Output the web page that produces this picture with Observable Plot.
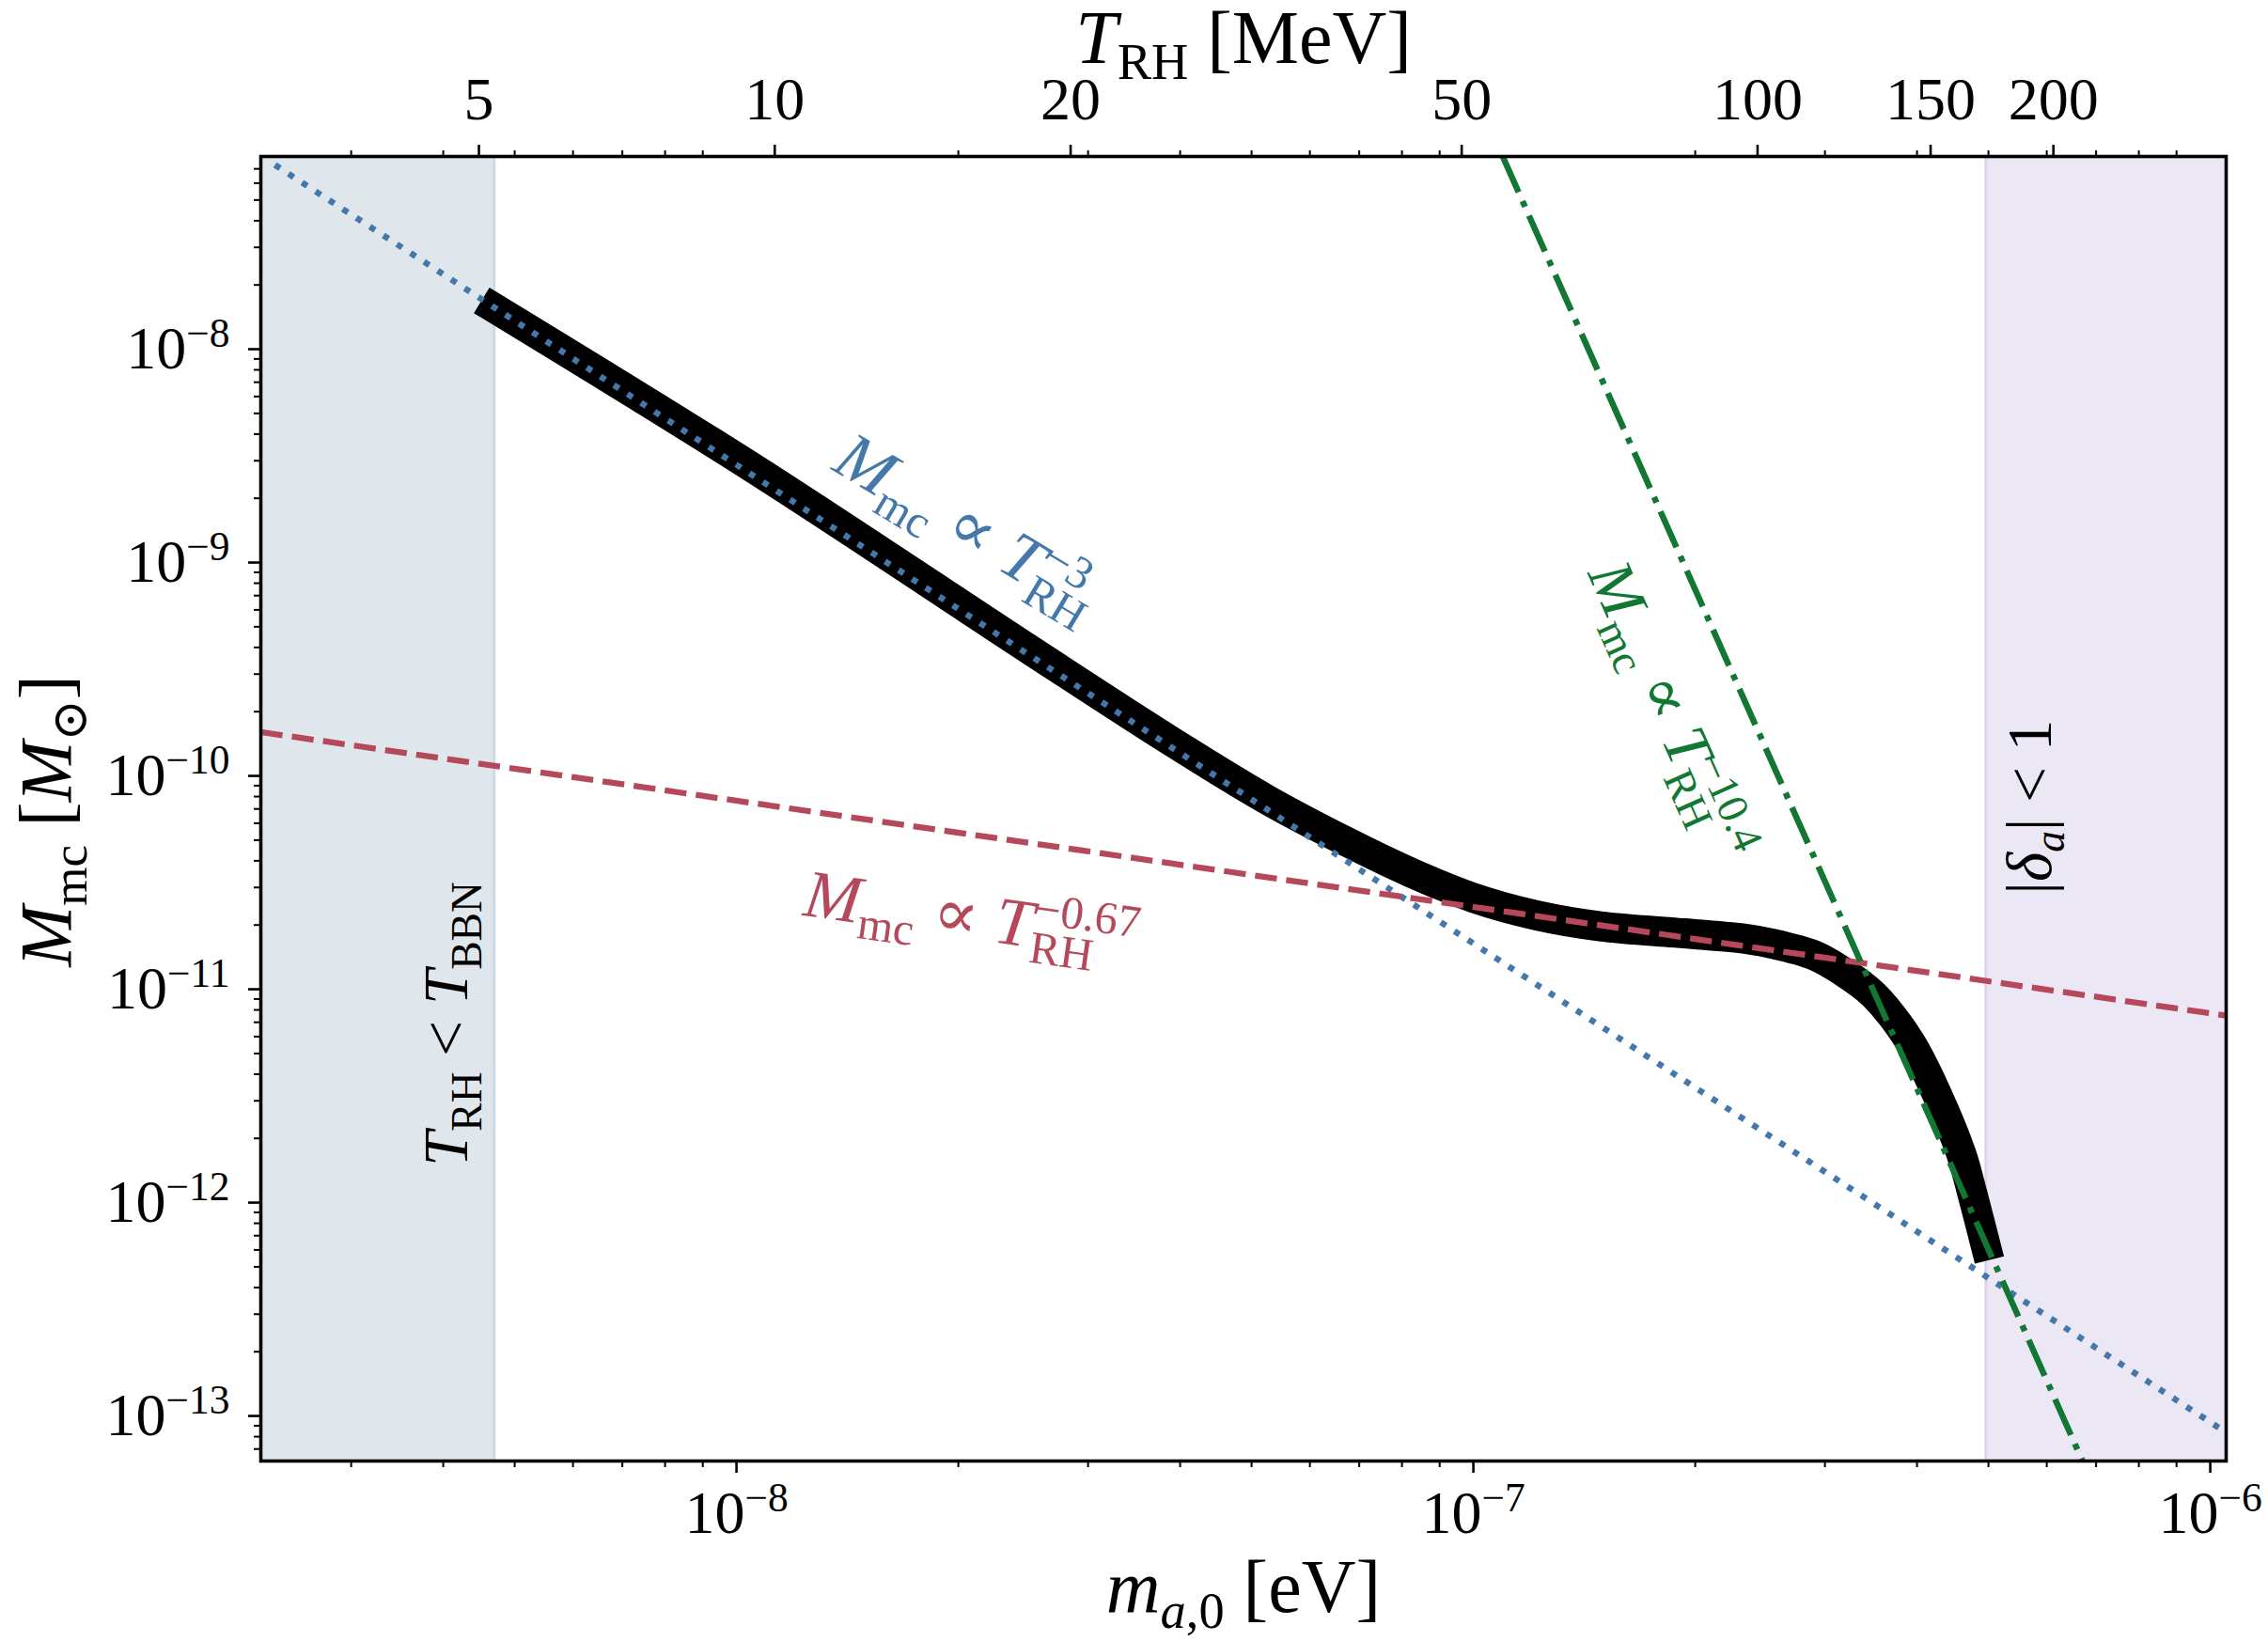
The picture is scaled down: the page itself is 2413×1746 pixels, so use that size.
<!DOCTYPE html>
<html>
<head>
<meta charset="utf-8">
<script src="https://cdn.jsdelivr.net/npm/d3@7"></script>
<script src="https://cdn.jsdelivr.net/npm/@observablehq/plot@0.6"></script>
<style>
  html, body { margin: 0; padding: 0; background: #fff; overflow: hidden; }
</style>
</head>
<body>
<div id="chart"></div>
<script>
// ---------------- data ----------------
// axion mass today m_a,0 [eV] and minicluster mass M_mc [M_sun]
const maDomain = [2.262e-9, 1.051e-6];
const mmcDomain = [6.15e-14, 8.0e-8];

// main result curve
const curveMa  = [4.51e-9, 1.051e-8, 2.537e-8, 3.942e-8, 5.241e-8, 6.767e-8, 8.235e-8, 1.003e-7,
                  1.221e-7, 1.487e-7, 1.931e-7, 2.350e-7, 2.529e-7, 2.904e-7, 3.171e-7, 3.494e-7,
                  3.916e-7, 4.253e-7, 4.592e-7, 4.757e-7, 5.015e-7];
const curveMmc = [1.694e-8, 2.785e-9, 3.777e-10, 1.412e-10, 7.76e-11, 4.866e-11, 3.517e-11, 2.675e-11,
                  2.217e-11, 1.973e-11, 1.829e-11, 1.720e-11, 1.644e-11, 1.44e-11, 1.213e-11, 9.41e-12,
                  5.665e-12, 3.243e-12, 1.695e-12, 1.095e-12, 5.384e-13];

// power-law guide lines (end points)
const guideT3Ma    = [2.364e-9, 1.051e-6];
const guideT3Mmc   = [7.30e-8, 8.37e-14];
const guideT067Ma  = [2.262e-9, 1.051e-6];
const guideT067Mmc = [1.604e-10, 7.53e-12];
const guideT104Ma  = [1.096e-7, 6.709e-7];
const guideT104Mmc = [8.0e-8, 6.15e-14];

// excluded regions
const bbnLimitMa = 4.69e-9;     // T_RH < T_BBN to the left
const deltaLimitMa = 4.96e-7;   // |delta_a| < 1 to the right

// ticks
const xMajorTicks = [1e-8, 1e-7, 1e-6];
const yMajorTicks = [1e-13, 1e-12, 1e-11, 1e-10, 1e-9, 1e-8];
const tRhTicks = [5, 10, 20, 50, 100, 150, 200];      // MeV, top axis
const tRhToMa = {coef: 5.227e-10, exponent: 1.3337};  // m_a,0 = coef * T_RH^exponent

// texts
const xTitle = "$m$_{$a$,0} [eV]";
const yTitle = "$M$_{mc} [$M$_{⊙}]";
const topTitle = "$T$_{RH} [MeV]";
const annotations = [
  {text: "$M$_{mc} ∝ $T$_{RH}^{−3}",    m: 1.988e-8, M: 1.213e-9,  rotate: 31,  color: "#4477AA", size: 72},
  {text: "$M$_{mc} ∝ $T$_{RH}^{−0.67}", m: 2.065e-8, M: 1.729e-11, rotate: 8,   color: "#B5495B", size: 72},
  {text: "$M$_{mc} ∝ $T$_{RH}^{−10.4}", m: 1.747e-7, M: 1.857e-10, rotate: 66,  color: "#117733", size: 68},
  {text: "$T$_{RH} < $T$_{BBN}",        m: 4.316e-9, M: 6.87e-12,  rotate: -90, color: "#000000", size: 67},
  {text: "|$δ$_{$a$}| < 1",             m: 6.07e-7,  M: 7.15e-11,  rotate: -90, color: "#000000", size: 67}
];

// ---------------- derived tables ----------------
const toRows = (xs, ys) => xs.map((m, i) => ({m, M: ys[i]}));
const curveRows = toRows(curveMa, curveMmc);
const t3Rows = toRows(guideT3Ma, guideT3Mmc);
const t067Rows = toRows(guideT067Ma, guideT067Mmc);
const t104Rows = toRows(guideT104Ma, guideT104Mmc);

function minorTicks([lo, hi]) {
  const out = [];
  for (let e = Math.floor(Math.log10(lo)); e <= Math.ceil(Math.log10(hi)); e++)
    for (let k = 2; k <= 9; k++) {
      const v = k * Math.pow(10, e);
      if (v > lo * 1.01 && v < hi * 0.99) out.push(v);
    }
  return out;
}
const xMinor = minorTicks(maDomain);
const yMinor = minorTicks(mmcDomain);
const topTickMa = tRhTicks.map(T => tRhToMa.coef * Math.pow(T, tRhToMa.exponent));
const topLabel = new Map(topTickMa.map((m, i) => [m, String(tRhTicks[i])]));
const powLabel = d => "10^{" + String(Math.round(Math.log10(d))).replace("-", "−") + "}";

const FONT = "'Liberation Serif', 'DejaVu Serif', serif";

const plot = Plot.plot({
  width: 2413,
  height: 1746,
  marginLeft: 277,
  marginRight: 45,
  marginTop: 166,
  marginBottom: 192,
  style: {fontFamily: FONT, fontSize: "64px", background: "#fff", color: "#000", overflow: "visible"},
  x: {type: "log", domain: maDomain, axis: null},
  y: {type: "log", domain: mmcDomain, axis: null},
  marks: [
    // shaded regions
    Plot.rect([0], {x1: () => maDomain[0], x2: () => bbnLimitMa, fill: "#DFE7EC"}),
    Plot.ruleX([bbnLimitMa], {stroke: "#CBDAE4", strokeWidth: 3}),
    Plot.rect([0], {x1: () => deltaLimitMa, x2: () => maDomain[1], fill: "#ECE7F5"}),
    Plot.ruleX([deltaLimitMa], {stroke: "#DDD5EF", strokeWidth: 3}),
    // main curve
    Plot.line(curveRows, {x: "m", y: "M", curve: "catmull-rom", stroke: "#000", strokeWidth: 32,
      strokeLinecap: "butt", strokeLinejoin: "round", clip: true}),
    // guides
    Plot.line(t3Rows, {x: "m", y: "M", stroke: "#4477AA", strokeWidth: 6.5, strokeDasharray: "6.5,10.7", strokeLinecap: "butt", clip: true}),
    Plot.line(t067Rows, {x: "m", y: "M", stroke: "#B5495B", strokeWidth: 6.3, strokeDasharray: "23.3,10.1", strokeLinecap: "butt", clip: true}),
    Plot.line(t104Rows, {x: "m", y: "M", stroke: "#117733", strokeWidth: 6.5, strokeDasharray: "41.6,10.4,6.5,10.4", strokeLinecap: "butt", clip: true}),
    // annotations
    ...annotations.map(a => Plot.text([a], {x: "m", y: "M", text: "text", rotate: a.rotate, fill: a.color,
      fontSize: a.size, textAnchor: "middle", lineAnchor: "bottom"})),
    // frame
    Plot.frame({stroke: "#000", strokeWidth: 3.6}),
    // axes
    Plot.axisX(xMajorTicks, {anchor: "bottom", tickSize: 13, tickPadding: 18, strokeWidth: 2.6, tickFormat: powLabel, label: null}),
    Plot.axisX(xMinor, {anchor: "bottom", tickSize: 7, strokeWidth: 2, tickFormat: () => "", label: null}),
    Plot.axisX(xMinor, {anchor: "top", tickSize: 7, strokeWidth: 2, tickFormat: () => "", label: null}),
    Plot.axisX(topTickMa, {anchor: "top", tickSize: 13, tickPadding: 27, strokeWidth: 2.6, tickFormat: d => topLabel.get(d), label: null}),
    Plot.axisY(yMajorTicks, {anchor: "left", tickSize: 13, tickPadding: 20, strokeWidth: 2.6, tickFormat: powLabel, label: null}),
    Plot.axisY(yMinor, {anchor: "left", tickSize: 7, strokeWidth: 2, tickFormat: () => "", label: null}),
    // axis titles
    Plot.text([xTitle], {frameAnchor: "bottom", textAnchor: "middle", dy: 160, lineAnchor: "bottom", fontSize: 80}),
    Plot.text([topTitle], {frameAnchor: "top", textAnchor: "middle", dy: -100, lineAnchor: "bottom", fontSize: 80}),
    Plot.text([yTitle], {frameAnchor: "left", textAnchor: "middle", dx: -203, dy: 13, rotate: -90, lineAnchor: "bottom", fontSize: 78})
  ]
});
document.getElementById("chart").append(plot);

// ---------------- rich text (italic / sub / superscripts) ----------------
function parseRich(s) {
  const atoms = [];
  let cur = {type: "normal", runs: []};
  let it = false, buf = "";
  const flush = () => { if (buf) { cur.runs.push({t: buf, it}); buf = ""; } };
  for (let i = 0; i < s.length; i++) {
    const c = s[i];
    if (c === "$") { flush(); it = !it; continue; }
    if ((c === "_" || c === "^") && s[i + 1] === "{") {
      flush();
      if (cur.runs.length) atoms.push(cur);
      cur = {type: c === "_" ? "sub" : "sup", runs: []};
      i++;
      continue;
    }
    if (c === "}" && cur.type !== "normal") {
      flush();
      atoms.push(cur);
      cur = {type: "normal", runs: []};
      continue;
    }
    buf += c;
  }
  flush();
  if (cur.runs.length) atoms.push(cur);
  return atoms;
}
const NS = "http://www.w3.org/2000/svg";
function richify(el) {
  const src = el.textContent;
  if (!/[$_^]/.test(src)) return;
  const base = parseFloat(getComputedStyle(el).fontSize) || 64;
  const atoms = parseRich(src);
  while (el.firstChild) el.removeChild(el.firstChild);
  const shift = {normal: 0, sub: 0.22 * base, sup: -0.36 * base};
  let off = 0;
  for (const a of atoms) {
    a.nodes = [];
    a.runs.forEach((r, j) => {
      const ts = document.createElementNS(NS, "tspan");
      ts.textContent = r.t;
      if (r.it) ts.setAttribute("font-style", "italic");
      if (a.type !== "normal") ts.setAttribute("font-size", (0.68 * base).toFixed(2) + "px");
      if (j === 0) {
        const dy = shift[a.type] - off;
        if (dy) ts.setAttribute("dy", dy.toFixed(2));
        off = shift[a.type];
      }
      el.appendChild(ts);
      a.nodes.push(ts);
    });
  }
  atoms.forEach(a => a.w = a.nodes.reduce((s, n) => s + n.getComputedTextLength(), 0));
  for (let k = 1; k < atoms.length; k++) {
    const a = atoms[k], p = atoms[k - 1];
    if (a.type === "sup" && p.type === "sub") {
      a.nodes[0].setAttribute("dx", (-p.w).toFixed(2));
      if (p.w > a.w && atoms[k + 1]) atoms[k + 1].nodes[0].setAttribute("dx", (p.w - a.w).toFixed(2));
    }
  }
}
plot.querySelectorAll("text").forEach(richify);
</script>
</body>
</html>
